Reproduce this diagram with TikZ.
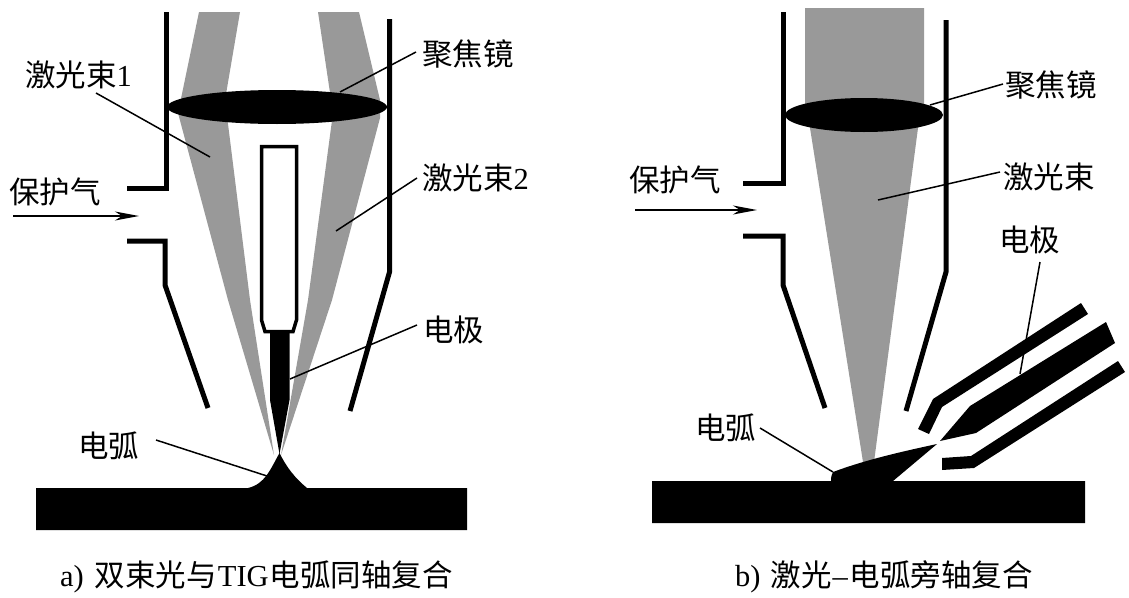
\documentclass[tikz,border=0pt]{standalone}
\usepackage{fontspec}
\setmainfont{Liberation Serif}
\newfontfamily\cjk{Noto Sans CJK SC}
\usetikzlibrary{arrows.meta}
\definecolor{beamgray}{HTML}{999999}
\tikzset{
  wall/.style={line width=5pt,line join=miter},
  beam/.style={fill=beamgray,draw=none},
  solidblack/.style={fill=black,draw=none},
  leader/.style={line width=1.5pt},
  flow/.style={line width=1.5pt,-{Stealth[length=24pt,width=9pt,inset=7pt]}},
  lab/.style={inner sep=0pt,font=\fontsize{30.5}{30}\selectfont,anchor=west},
  captext/.style={inner sep=0pt,font=\fontsize{30.5}{30}\selectfont,anchor=west},
}
\begin{document}
\begin{tikzpicture}[x=1pt,y=-1pt]
\useasboundingbox (0,0) rectangle (1129,597);
% --- left figure ---
\fill[beam] (199,12) -- (240,12) -- (225,100) -- (250,300) -- (274,455) -- (228,300) -- (178,113) -- cycle;
\fill[beam] (318,12) -- (359,12) -- (380,100) -- (380,118) -- (332,300) -- (281,455) -- (308,300) -- (333,113) -- cycle;
\fill[black] (277,107) ellipse [x radius=110,y radius=17];
\draw[wall] (166,12) -- (166,188) -- (127,188);
\draw[wall] (127,241) -- (165,241) -- (165,285) -- (208,408);
\draw[wall] (389.5,19) -- (389.5,272) -- (350,411);
\draw[line width=3.5pt,fill=white] (261.5,146.5) -- (296.5,146.5) -- (296.5,320) -- (293,331.5) -- (265,331.5) -- (261.5,320) -- cycle;
\fill[solidblack] (270,332) -- (289.5,332) -- (289.5,400) -- (279.5,454) -- (270,400) -- cycle;
\fill[solidblack] (36,488) -- (248,488) .. controls (265,484) and (270,470) .. (279.5,453) .. controls (287,468) and (295,478) .. (307,488) -- (467,488) -- (467,530) -- (36,530) -- cycle;
% left labels
\node[lab] (beamA) at (25,75) {{\cjk 激光束}1};
\node[lab] (lensA) at (422,54) {\cjk 聚焦镜};
\node[lab] (gasA) at (9,192) {\cjk 保护气};
\node[lab] (beamB) at (422,178) {{\cjk 激光束}2};
\node[lab] (elecA) at (423,330) {\cjk 电极};
\node[lab] (arcA) at (78,446) {\cjk 电弧};
\node[captext] (capA) at (60,577) {a)\hspace{11pt}{\cjk 双束光与}\hspace{1pt}TIG\hspace{1pt}{\cjk 电弧同轴复合}};
\coordinate (a1s) at (96,93); \coordinate (a1e) at (210,157);
\coordinate (a2s) at (416,52); \coordinate (a2e) at (340,92);
\coordinate (a3s) at (417,178); \coordinate (a3e) at (336,231);
\coordinate (a4s) at (417,325); \coordinate (a4e) at (290,379);
\coordinate (a5s) at (156,440); \coordinate (a5e) at (267,476);
\coordinate (a6s) at (13,216); \coordinate (a6e) at (139,216);
\draw[leader] (a1s) -- (a1e);
\draw[leader] (a2s) -- (a2e);
\draw[leader] (a3s) -- (a3e);
\draw[leader] (a4s) -- (a4e);
\draw[leader] (a5s) -- (a5e);
\draw[flow] (a6s) -- (a6e);
% --- right figure ---
\fill[beam] (805,8) -- (924,8) -- (924,110) -- (918,128) -- (874,462) -- (863,462) -- (810,128) -- (805,110) -- cycle;
\fill[black] (864,115) ellipse [x radius=79,y radius=17];
\draw[wall] (783,12) -- (783,183) -- (743,183);
\draw[wall] (743,236) -- (783,236) -- (783,285) -- (825,408);
\draw[wall] (946,20) -- (946,272) -- (906,411);
\fill[solidblack] (652,481) -- (831,481) .. controls (831,476) and (832,474) .. (833,472) .. controls (865,460) and (900,452) .. (937,444) -- (893,481) -- (1085,481) -- (1085,523) -- (652,523) -- cycle;
\fill[solidblack] (940,441) -- (970,406) -- (1106,322) -- (1115,343) -- (976,433) -- cycle;
\fill[solidblack] (1081,303) -- (1088,314) -- (942,407) -- (929,434) -- (918,429) -- (933,399) -- cycle;
\fill[solidblack] (1118,361) -- (1125,372) -- (974,468) -- (942,470) -- (942,458) -- (971,456) -- cycle;
% right labels
\node[lab] (lensB) at (1005,85) {\cjk 聚焦镜};
\node[lab] (beamC) at (1003,177) {\cjk 激光束};
\node[lab] (gasB) at (629,180) {\cjk 保护气};
\node[lab] (elecB) at (999,240) {\cjk 电极};
\node[lab] (arcB) at (695,428) {\cjk 电弧};
\node[captext] (capB) at (735,577) {b)\hspace{10pt}{\cjk 激光}\hspace{1pt}–\hspace{2pt}{\cjk 电弧旁轴复合}};
\coordinate (b1s) at (1003,84); \coordinate (b1e) at (930,105);
\coordinate (b2s) at (1000,172); \coordinate (b2e) at (878,200);
\coordinate (b3s) at (1040,262); \coordinate (b3e) at (1020,374);
\coordinate (b4s) at (760,428); \coordinate (b4e) at (833,472);
\coordinate (b5s) at (635,210); \coordinate (b5e) at (757,210);
\draw[leader] (b1s) -- (b1e);
\draw[leader] (b2s) -- (b2e);
\draw[leader] (b3s) -- (b3e);
\draw[leader] (b4s) -- (b4e);
\draw[flow] (b5s) -- (b5e);
\end{tikzpicture}
\end{document}
